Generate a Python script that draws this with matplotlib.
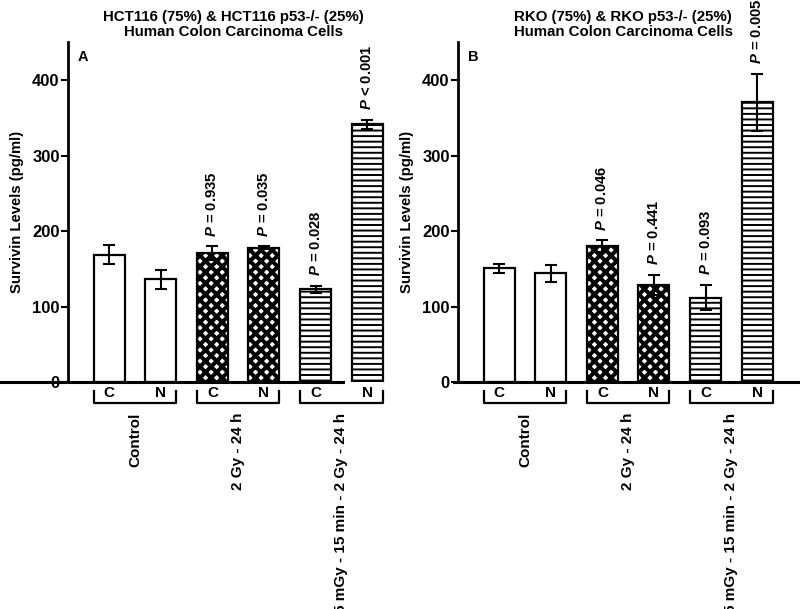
import matplotlib
matplotlib.use("Agg")
import matplotlib.pyplot as plt
import matplotlib.transforms as mtransforms
import numpy as np

plt.rcParams["font.family"] = ["Liberation Sans", "DejaVu Sans"]
plt.rcParams["font.weight"] = "bold"
plt.rcParams["mathtext.fontset"] = "custom"
plt.rcParams["mathtext.it"] = "Liberation Sans:bold:italic"
plt.rcParams["mathtext.rm"] = "Liberation Sans:bold"

# data
bar_labels = ["C", "N", "C", "N", "C", "N"]
groups = ["Control", "2 Gy - 24 h", "5 mGy - 15 min - 2 Gy - 24 h"]
hatches = ["", "", "xxx", "xxx", "---", "---"]

hct_titles = ["HCT116 (75%) & HCT116 p53-/- (25%)", "Human Colon Carcinoma Cells"]
hct_means = [169, 136, 171, 178, 123, 342]
hct_errs = [13, 13, 9, 2, 5, 6]
hct_pvals = [None, None, "= 0.935", "= 0.035", "= 0.028", "< 0.001"]

rko_titles = ["RKO (75%) & RKO p53-/- (25%)", "Human Colon Carcinoma Cells"]
rko_means = [151, 144, 180, 129, 112, 371]
rko_errs = [6, 11, 8, 13, 17, 38]
rko_pvals = [None, None, "= 0.046", "= 0.441", "= 0.093", "= 0.005"]


def draw_panel(ax, titles, means, errs, pvals, letter, base_span):
    x = np.arange(len(means))
    for xi, m, h in zip(x, means, hatches):
        lw = 2.9 if "x" in h else 1.4
        with plt.rc_context({"hatch.linewidth": lw}):
            bars = ax.bar(xi, m, width=0.6, color="white", edgecolor="black",
                          linewidth=1.6, hatch=h, zorder=2)
        for b in bars:
            if hasattr(b, "set_hatch_linewidth"):
                b.set_hatch_linewidth(lw)
    ax.errorbar(x, means, yerr=errs, fmt="none", ecolor="black",
                elinewidth=1.5, capsize=4, capthick=1.5, zorder=3)

    for xi, m, e, p in zip(x, means, errs, pvals):
        if p is None:
            continue
        ax.annotate(r"$\it{P}$ " + p, xy=(xi, m + e), xytext=(0, 7),
                    textcoords="offset points", rotation=90, ha="center",
                    va="bottom", fontsize=10.7, fontweight="bold",
                    annotation_clip=False)

    ax.set_xlim(-0.8, 5.6)
    ax.set_ylim(0, 451)
    ax.set_yticks([0, 100, 200, 300, 400])
    ax.set_xticks([])
    for side in ["top", "right", "bottom"]:
        ax.spines[side].set_visible(False)
    ax.spines["left"].set_linewidth(2)
    ax.tick_params(axis="y", direction="out", length=5, width=1.5,
                   labelsize=12, pad=1)
    ax.set_ylabel("Survivin Levels (pg/ml)", fontsize=10.7, fontweight="bold",
                  labelpad=6)
    ax.set_title("\n".join(titles), fontsize=10.8, fontweight="bold",
                 pad=4, linespacing=1.15)
    ax.text(0.03, 0.955, letter, transform=ax.transAxes, fontsize=10.5,
            fontweight="bold", va="center", ha="left")

    # baseline
    ax.plot(base_span, [0, 0], transform=ax.transAxes, color="black",
            linewidth=2.2, clip_on=False, zorder=4)

    trans = mtransforms.blended_transform_factory(ax.transData, ax.transAxes)
    for xi, lab in zip(x, bar_labels):
        ax.text(xi, -0.032, lab, transform=trans, ha="center", va="center",
                fontsize=11, fontweight="bold")
    for g, name in enumerate(groups):
        x0 = x[2 * g] - 0.3
        x1 = x[2 * g + 1] + 0.3
        ax.plot([x0, x0, x1, x1], [-0.026, -0.062, -0.062, -0.026],
                transform=trans, color="black", linewidth=1.6, clip_on=False)
        ax.text((x0 + x1) / 2, -0.09, name, transform=trans, rotation=90,
                ha="center", va="top", fontsize=11, fontweight="bold")


fig = plt.figure(figsize=(8, 6.09), dpi=100)
ax1 = fig.add_axes([0.085, 0.3727, 0.4125, 0.5583])
ax2 = fig.add_axes([0.5725, 0.3727, 0.4125, 0.5583])

draw_panel(ax1, hct_titles, hct_means, hct_errs, hct_pvals, "A", [-0.206, 0.833])
draw_panel(ax2, rko_titles, rko_means, rko_errs, rko_pvals, "B", [-0.012, 1.04])

fig.savefig("out.png", dpi=100)
